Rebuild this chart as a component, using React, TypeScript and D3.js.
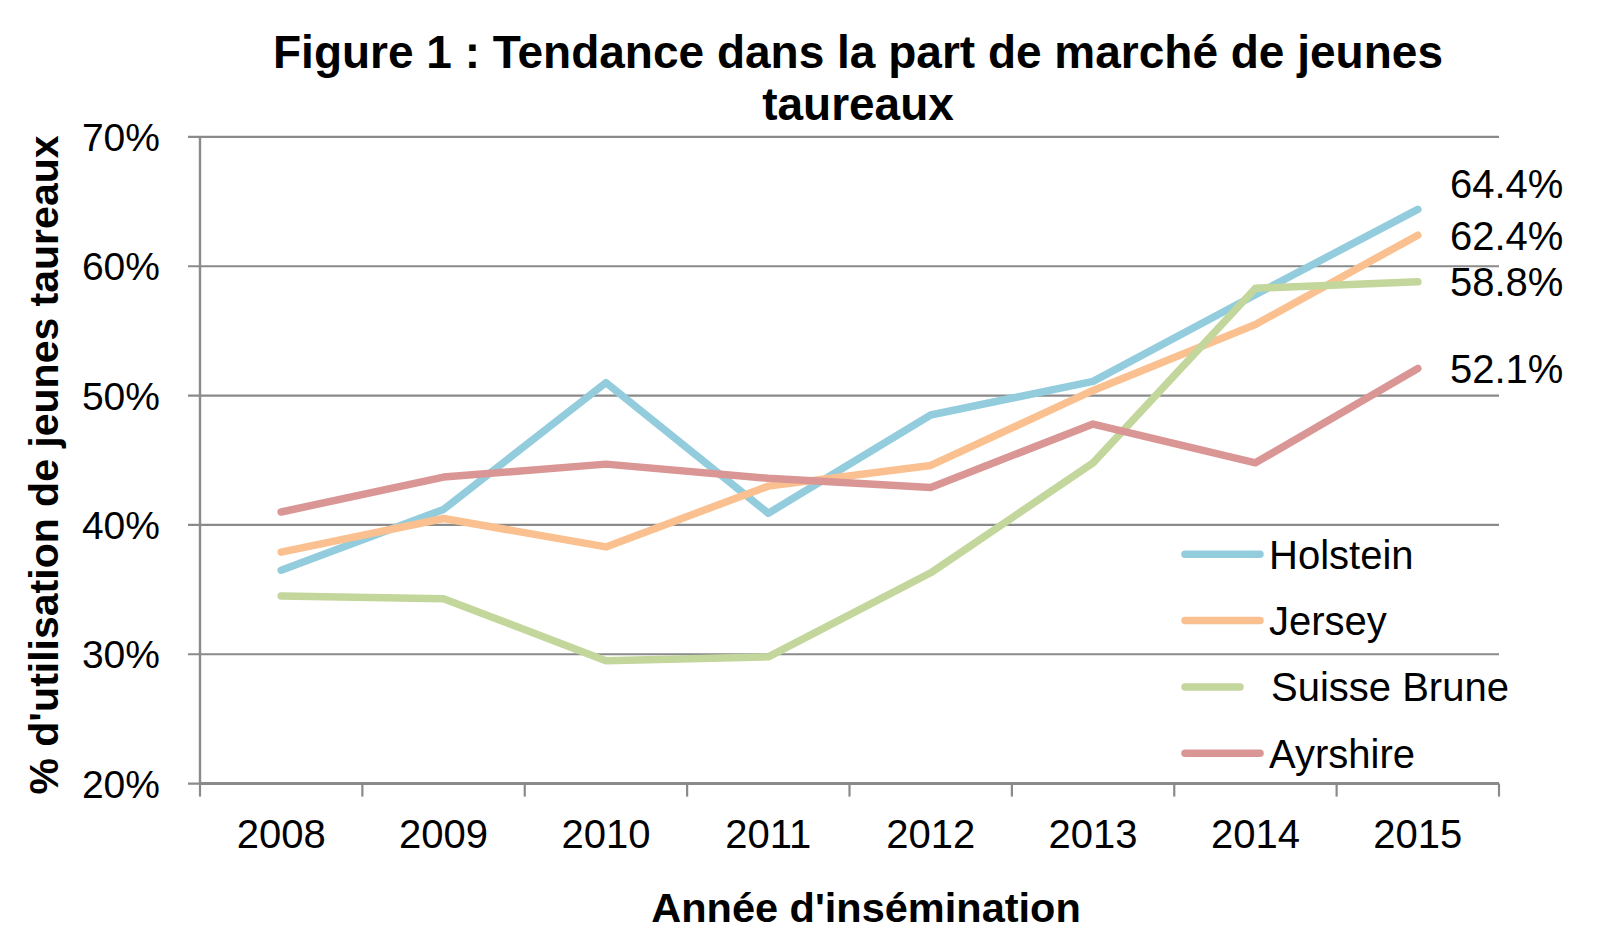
import React from "react";
import * as d3 from "d3";

const years = ["2008", "2009", "2010", "2011", "2012", "2013", "2014", "2015"];
const holstein = [36.5, 41.2, 51.0, 40.9, 48.5, 51.1, 57.8, 64.4];
const jersey = [37.9, 40.5, 38.3, 43.0, 44.6, 50.4, 55.5, 62.4];
const suisseBrune = [34.5, 34.3, 29.5, 29.8, 36.3, 44.8, 58.3, 58.8];
const ayrshire = [41.0, 43.7, 44.7, 43.6, 42.9, 47.8, 44.8, 52.1];
const seriesNames = ["Holstein", "Jersey", "Suisse Brune", "Ayrshire"];
const yTicks = [20, 30, 40, 50, 60, 70];
const endLabels = ["64.4%", "62.4%", "58.8%", "52.1%"];

const colors = ["#93CDDD", "#FAC090", "#C3D69B", "#D99694"];
const FONT = "'Liberation Sans', Arial, sans-serif";

export default function App() {
  const W = 1600, H = 942;
  const left = 200, right = 1499, top = 136.9, bottom = 783.6;
  const x = d3.scaleBand<string>().domain(years).range([left, right]);
  const y = d3.scaleLinear().domain([20, 70]).range([bottom, top]);
  const cx = (yr: string) => (x(yr) as number) + x.bandwidth() / 2;
  const all = [holstein, jersey, suisseBrune, ayrshire];
  const line = d3
    .line<number>()
    .x((_, i) => cx(years[i]))
    .y((v) => y(v));
  const labelNudge = [-26, 0, 0, 0];
  const legendY0 = 554.3, legendStep = 66.3;
  const tickXs = years.map((yr) => x(yr) as number).concat([right]);

  return (
    <svg
      width={W}
      height={H}
      style={{ position: "absolute", left: 0, top: 0, background: "#fff" }}
      fontFamily={FONT}
    >
      <rect width={W} height={H} fill="#fff" />
      {/* title */}
      <text x={858} y={67.7} textAnchor="middle" fontSize={46} fontWeight="bold" fill="#000">
        Figure 1 : Tendance dans la part de marché de jeunes
      </text>
      <text x={858} y={119.5} textAnchor="middle" fontSize={46} fontWeight="bold" fill="#000">
        taureaux
      </text>
      {/* gridlines */}
      {yTicks.map((t) => (
        <line key={"g" + t} x1={left - 12} x2={right} y1={y(t)} y2={y(t)} stroke="#8a8a8a" strokeWidth={2.2} />
      ))}
      {/* y axis */}
      <line x1={left} x2={left} y1={top} y2={bottom} stroke="#8a8a8a" strokeWidth={2.4} />
      {yTicks.map((t) => (
        <text key={"yl" + t} x={160} y={y(t)} dy="0.36em" textAnchor="end" fontSize={39} fill="#000">
          {t}%
        </text>
      ))}
      {/* x axis */}
      <line x1={left} x2={right} y1={bottom} y2={bottom} stroke="#8a8a8a" strokeWidth={3} />
      {tickXs.map((tx, i) => (
        <line key={"xt" + i} x1={tx} x2={tx} y1={bottom} y2={bottom + 13} stroke="#8a8a8a" strokeWidth={2.2} />
      ))}
      {years.map((yr) => (
        <text key={"xl" + yr} x={cx(yr)} y={848} textAnchor="middle" fontSize={40} fill="#000">
          {yr}
        </text>
      ))}
      {/* axis titles */}
      <text x={866} y={921.7} textAnchor="middle" fontSize={41.5} fontWeight="bold" fill="#000">
        Année d'insémination
      </text>
      <text
        transform={`translate(58,465) rotate(-90)`}
        textAnchor="middle"
        fontSize={41}
        fontWeight="bold"
        fill="#000"
      >
        % d'utilisation de jeunes taureaux
      </text>
      {/* series */}
      {all.map((s, i) => (
        <path
          key={"s" + i}
          d={line(s) as string}
          fill="none"
          stroke={colors[i]}
          strokeWidth={7.5}
          strokeLinejoin="round"
          strokeLinecap="round"
        />
      ))}
      {/* end labels */}
      {all.map((s, i) => (
        <text
          key={"el" + i}
          x={1450}
          y={y(s[s.length - 1]) + labelNudge[i]}
          dy="0.36em"
          fontSize={40}
          fill="#000"
        >
          {endLabels[i]}
        </text>
      ))}
      {/* legend */}
      {seriesNames.map((n, i) => {
        const ly = legendY0 + i * legendStep;
        const short = n === "Suisse Brune";
        return (
          <g key={"lg" + i}>
            <line
              x1={1185}
              x2={short ? 1240 : 1260}
              y1={ly}
              y2={ly}
              stroke={colors[i]}
              strokeWidth={7.5}
              strokeLinecap="round"
            />
            <text x={short ? 1271 : 1269} y={ly} dy="0.36em" fontSize={40} fill="#000">
              {n}
            </text>
          </g>
        );
      })}
    </svg>
  );
}
